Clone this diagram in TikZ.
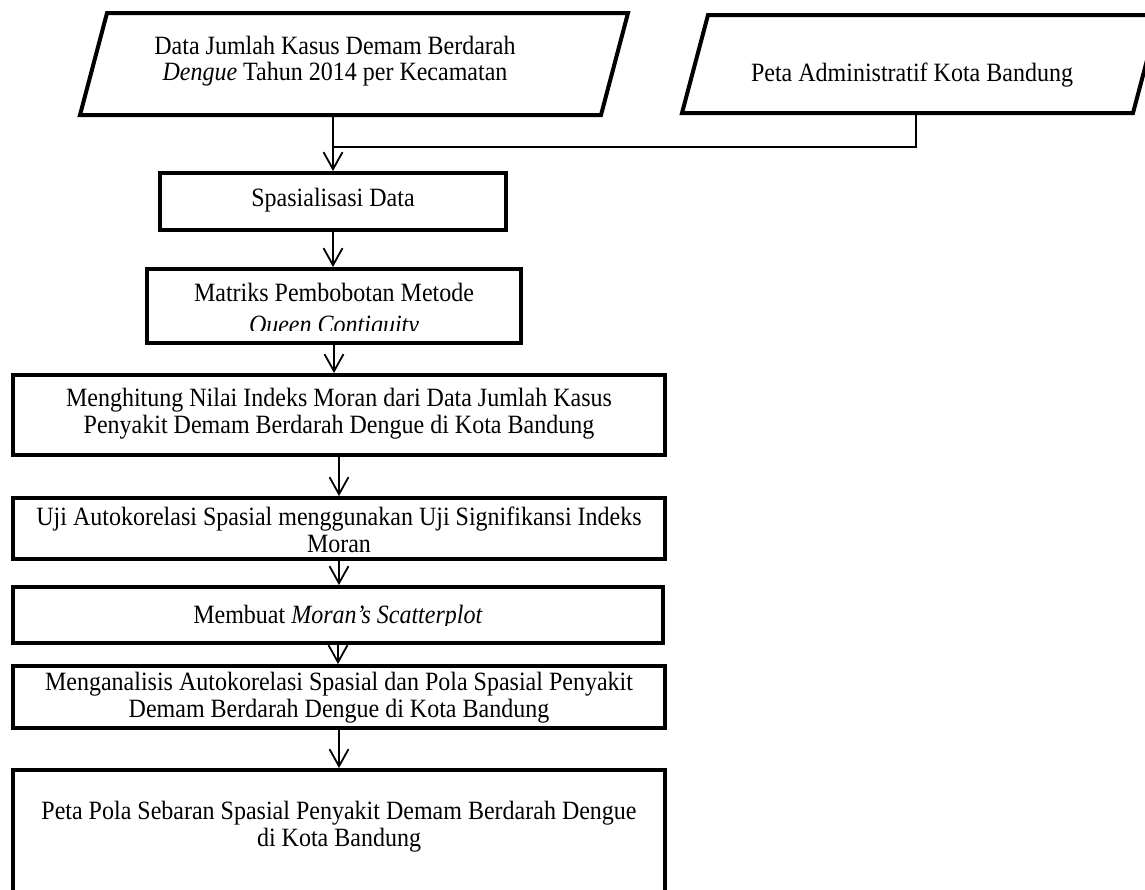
\documentclass[tikz,border=0pt]{standalone}
\usepackage{fontspec}
\usepackage{graphicx}
\setmainfont{Liberation Serif}
\usetikzlibrary{arrows.meta, positioning}
% text rows, a little taller than the font
\newcommand{\tallrows}[1]{\scalebox{1}[1.1]{\begin{tabular}{@{}c@{}}#1\end{tabular}}}
\tikzset{
  procbox/.style={rectangle, draw=black, fill=white, line width=2pt,
    inner sep=0pt, align=center},
  inbox/.style={draw=black, fill=white, line width=2pt, line join=miter},
  boxtext/.style={inner sep=0pt},
  flow/.style={-{Straight Barb[length=8.5pt, width=9.5pt]}, line width=0.9pt},
  line/.style={line width=0.9pt}
}
\begin{document}
\begin{tikzpicture}[x=0.5pt, y=-0.5pt,
  every node/.style={font=\fontsize{12}{12.3}\selectfont}]
  \useasboundingbox (0,0) rectangle (1145,889);
  \clip (0,0) rectangle (1145,889);

  % Input data (parallelograms)
  \draw[inbox] (80,115) -- (601,115) -- (628,13) -- (107,13) -- cycle;
  \node[boxtext, font=\fontsize{12}{11.4}\selectfont] (datatxt) at (335,62)
    {\tallrows{Data Jumlah Kasus Demam Berdarah\\ \textit{Dengue} Tahun 2014 per Kecamatan}};
  \coordinate (datafoot) at (333,115);
  \draw[inbox] (682,113) -- (1133,113) -- (1159,15) -- (708,15) -- cycle;
  \node[boxtext] (petatxt) at (912,76) {\tallrows{Peta Administratif Kota Bandung}};
  \coordinate (petafoot) at (916,113);

  % Process steps
  \node[procbox, minimum width=173pt, minimum height=28.5pt] (spas) at (333,201.5)
    {\tallrows{Spasialisasi Data}};

  \node[procbox, minimum width=187pt, minimum height=37pt] (matr) at (334,306) {};
  \begin{scope}
    \clip (147,269) rectangle (521,330);
    \node[boxtext, font=\fontsize{12}{14.3}\selectfont] (matrtxt) at (334,311)
      {\tallrows{Matriks Pembobotan Metode\\ \textit{Queen Contiguity}}};
  \end{scope}

  \node[procbox, minimum width=326pt, minimum height=40pt] (hitung) at (339,415)
    {\tallrows{Menghitung Nilai Indeks Moran dari Data Jumlah Kasus\\
     Penyakit Demam Berdarah Dengue di Kota Bandung}};

  \node[procbox, minimum width=326pt, minimum height=30.5pt] (uji) at (339,528.5) {};
  \node[boxtext] (ujitxt) at (339,534)
    {\tallrows{Uji Autokorelasi Spasial menggunakan Uji Signifikansi Indeks\\ Moran}};

  \node[procbox, minimum width=325pt, minimum height=28pt] (scat) at (338,615) {};
  \begin{scope}
    \clip (13,587) rectangle (663,625);
    \node[boxtext] (scattxt) at (338,618)
      {\tallrows{Membuat \textit{Moran’s Scatterplot}}};
  \end{scope}

  \node[procbox, minimum width=326pt, minimum height=31pt] (analisis) at (339,697) {};
  \node[boxtext] (analisistxt) at (339,699)
    {\tallrows{Menganalisis Autokorelasi Spasial dan Pola Spasial Penyakit\\
     Demam Berdarah Dengue di Kota Bandung}};

  \node[procbox, minimum width=326pt, minimum height=65pt] (pola) at (339,835) {};
  \node[boxtext] (polatxt) at (339,828)
    {\tallrows{Peta Pola Sebaran Spasial Penyakit Demam Berdarah Dengue\\ di Kota Bandung}};

  % Connectors
  \path (spas.north) ++(0,-24) coordinate (join);
  \draw[flow] (datafoot) -- (datafoot |- spas.north);
  \draw[line] (petafoot) |- (join);
  \draw[flow] (spas.south) -- (spas.south |- matr.north);
  \draw[flow] (matr.south) -- (matr.south |- hitung.north);
  \draw[flow] (hitung.south) -- (uji.north);
  \draw[flow] (uji.south) -- (uji.south |- scat.north);
  \draw[flow] (scat.south) -- (scat.south |- analisis.north);
  \draw[flow] (analisis.south) -- (pola.north);
\end{tikzpicture}
\end{document}
